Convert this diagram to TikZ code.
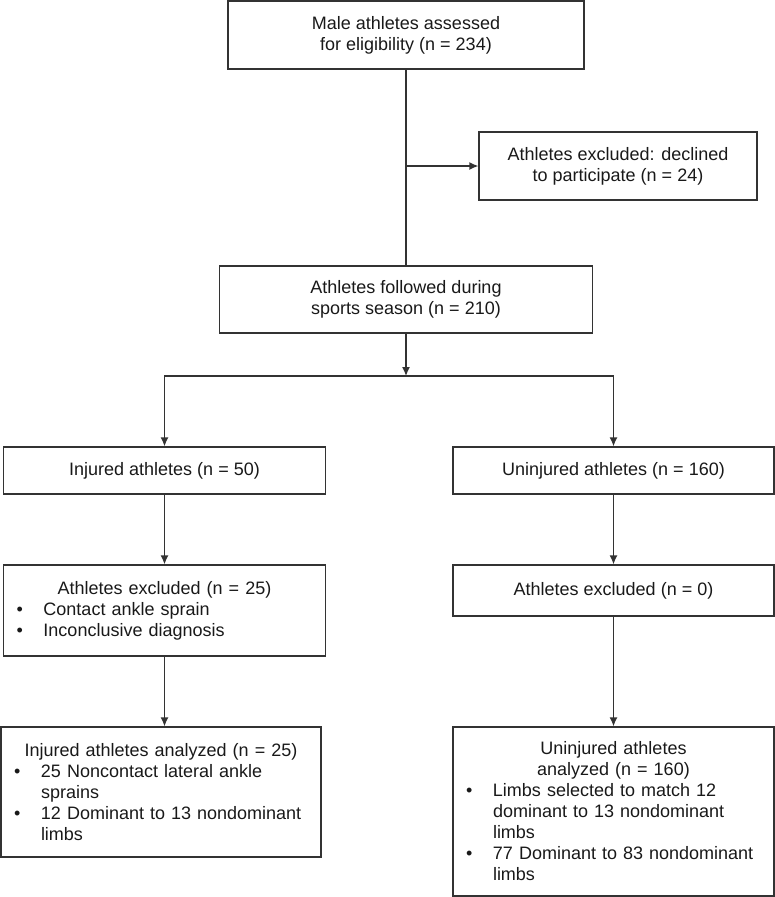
\documentclass[tikz,border=0pt]{standalone}
\usepackage{fontspec}
\setmainfont{Liberation Sans}
\usetikzlibrary{arrows.meta}
\newcommand\bitem{\par\hangindent=27pt\hangafter=1\noindent\makebox[27pt][l]{\textbullet}}
\begin{document}
\begin{tikzpicture}[x=1pt,y=-1pt,
  box/.style={draw=black!80,line width=1.3pt,inner sep=0pt,text=black!90,
    font=\fontsize{18}{21}\selectfont,align=center},
  blist/.style={box,inner xsep=13pt,text width=#1,align=left},
  arr/.style={draw=black!80,line width=1.3pt,-{Latex[length=9pt,width=8pt]}}]
\useasboundingbox (0,0) rectangle (775,897);
\node[box,minimum width=356pt,minimum height=68pt](elig) at (406,35)
  {Male athletes assessed\\for eligibility (n = 234)};
\node[box,minimum width=278pt,minimum height=68pt](excl) at (618,166)
  {Athletes excluded: declined\\to participate (n = 24)};
\node[box,minimum width=373pt,minimum height=67pt](follow) at (406,299.5)
  {Athletes followed during\\sports season (n = 210)};
\coordinate (split) at (406,376);
\node[box,minimum width=322pt,minimum height=47pt](inj) at (164.5,470.5)
  {Injured athletes (n = 50)};
\node[box,minimum width=321pt,minimum height=47pt](uninj) at (613.5,470.5)
  {Uninjured athletes (n = 160)};
\node[blist=296pt,minimum width=322pt,minimum height=91pt](exinj) at (164.5,610.5)
  {{\centering Athletes excluded (n = 25)\par}
   \bitem Contact ankle sprain
   \bitem Inconclusive diagnosis\par};
\node[box,minimum width=321pt,minimum height=51pt](exun) at (613.5,590.5)
  {Athletes excluded (n = 0)};
\node[blist=294pt,minimum width=320pt,minimum height=130pt](aninj) at (161,792)
  {{\centering Injured athletes analyzed (n = 25)\par}
   \bitem 25 Noncontact lateral ankle\newline sprains
   \bitem 12 Dominant to 13 nondominant\newline limbs\par};
\node[blist=295pt,minimum width=321pt,minimum height=169pt](anun) at (613.5,811.5)
  {{\centering Uninjured athletes\\analyzed (n = 160)\par}
   \bitem Limbs selected to match 12\newline dominant to 13 nondominant\newline limbs
   \bitem 77 Dominant to 83 nondominant\newline limbs\par};
\draw[draw=black!80,line width=1.3pt](elig.south)--(follow.north);
\draw[arr](elig.south|-excl.west)--(excl.west);
\draw[arr](follow)--(split);
\draw[arr](split)-|(inj.north);
\draw[arr](split)-|(uninj.north);
\draw[arr](inj)--(exinj);
\draw[arr](exinj.south)--(exinj.south|-aninj.north);
\draw[arr](uninj)--(exun);
\draw[arr](exun)--(anun);
\end{tikzpicture}
\end{document}
